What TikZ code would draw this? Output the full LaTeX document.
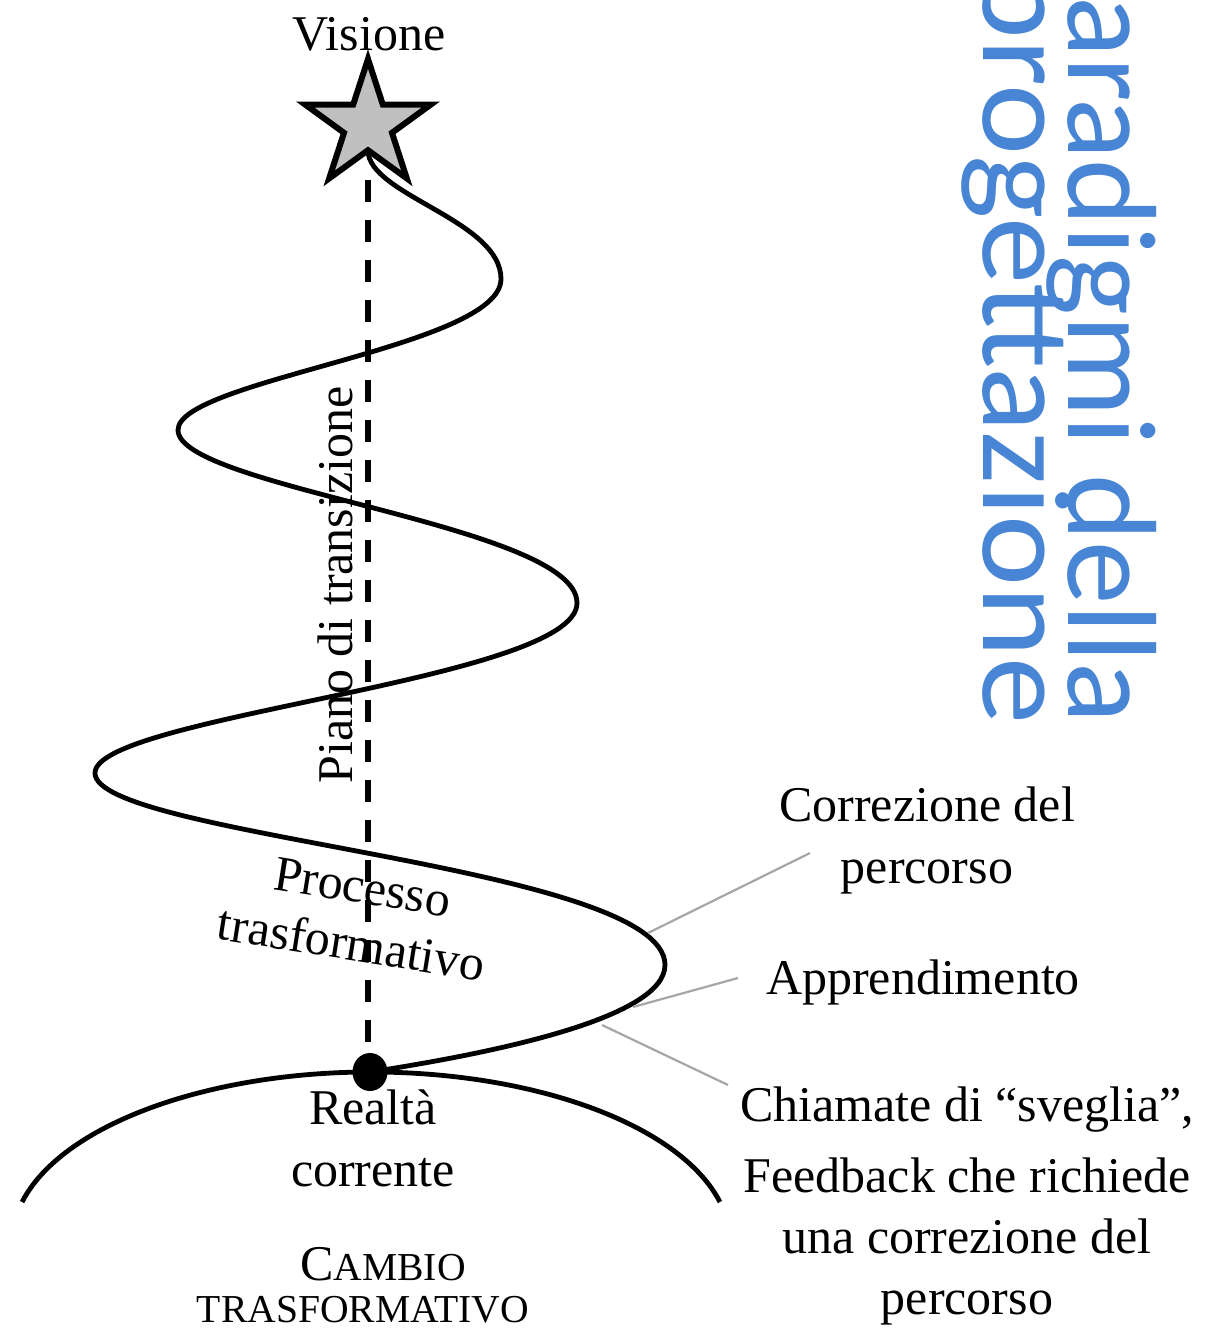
\documentclass[tikz,border=0pt]{standalone}
\usepackage{fontspec}
\setmainfont{Liberation Serif}
\newfontfamily\titleface{Carlito}
\newfontfamily\titlewide[FakeStretch=1.06]{Carlito}
\usetikzlibrary{shapes.geometric}
\definecolor{titleblue}{RGB}{72,133,212}
\definecolor{callgray}{RGB}{166,166,166}
\definecolor{stargray}{RGB}{192,192,192}
\pgfdeclarelayer{background}
\pgfsetlayers{background,main}
\begin{document}
\begin{tikzpicture}[x=0.5pt,y=-0.5pt,
  lbl/.style={font=\fontsize{25}{31}\selectfont, inner sep=0, anchor=base},
  smallcap/.style={font=\fontsize{19.8}{24}\selectfont, inner sep=0, anchor=base},
  titletext/.style={text=titleblue, inner sep=0, rotate=-90, anchor=base east},
  spiral/.style={line width=2.4pt},
  dashline/.style={line width=2.8pt, dash pattern=on 11pt off 9pt},
  callout/.style={draw=callgray, line width=1.1pt}]
\useasboundingbox (0,0) rectangle (1214,1334);
\clip (0,0) rectangle (1214,1334);

% star and dot
\node[star, star points=5, star point ratio=2.618, minimum size=66pt, inner sep=0, outer sep=0,
      draw, fill=stargray, line width=3pt] (star) at (368,125) {};
\node[ellipse, fill=black, minimum width=17.5pt, minimum height=19pt, inner sep=0] (dot) at (370,1072) {};

\begin{pgfonlayer}{background}
\coordinate (dstart) at (368,180);
\draw[dashline] (dstart) -- (dstart |- dot.north);
\draw[spiral] (dot.center) .. controls (480,1055) and (665,1020) .. (665,965)
  .. controls (665,865) and (95,837) .. (95,773)
  .. controls (95,716) and (577,680) .. (577,603)
  .. controls (577,525) and (178,488) .. (178,430)
  .. controls (178,380) and (501,347) .. (501,279)
  .. controls (501,220) and (368,195) .. (star.inner point 3);
\draw[spiral] (371,1242) ++(193.6:359 and 170) arc[start angle=193.6, end angle=346.4, x radius=359, y radius=170];
\end{pgfonlayer}

% callout lines
\coordinate (c1a) at (648,933); \coordinate (c1b) at (810,853);
\coordinate (c2a) at (633,1007); \coordinate (c2b) at (738,978);
\coordinate (c3a) at (602,1025); \coordinate (c3b) at (728,1085);
\draw[callout] (c1a) -- (c1b);
\draw[callout] (c2a) -- (c2b);
\draw[callout] (c3a) -- (c3b);

% labels
\node[lbl] (visione) at (369,50) {Visione};
\node[lbl] (corr1) at (927,821) {Correzione del};
\node[lbl] (corr2) at (927,883) {percorso};
\node[lbl] (appr) at (923,994) {Apprendimento};
\node[lbl] (chi1) at (967,1121) {Chiamate di “sveglia”,};
\node[lbl] (chi2) at (967,1192) {Feedback che richiede};
\node[lbl] (chi3) at (967,1253) {una correzione del};
\node[lbl] (chi4) at (967,1314) {percorso};
\node[lbl] (real1) at (373,1124) {Realtà};
\node[lbl] (real2) at (373,1186) {corrente};
\node[lbl, rotate=90] (piano) at (352,585) {Piano di transizione};
\node[lbl, rotate=-9] (proc1) at (360,903) {Processo};
\node[lbl, rotate=-9] (proc2) at (349,960) {trasformativo};
\node[lbl] (camb1) at (383,1280) {C{\fontsize{19.8}{24}\selectfont AMBIO}};
\node[smallcap] (camb2) at (363,1322) {TRASFORMATIVO};

% title
\node[titletext, font=\titleface\fontsize{63.5}{42.5}\selectfont] (title1) at (1068,724) {Paradigmi della};
\node[titletext, font=\titlewide\fontsize{63.5}{42.5}\selectfont] (title2) at (983,725) {progettazione};
\end{tikzpicture}
\end{document}
